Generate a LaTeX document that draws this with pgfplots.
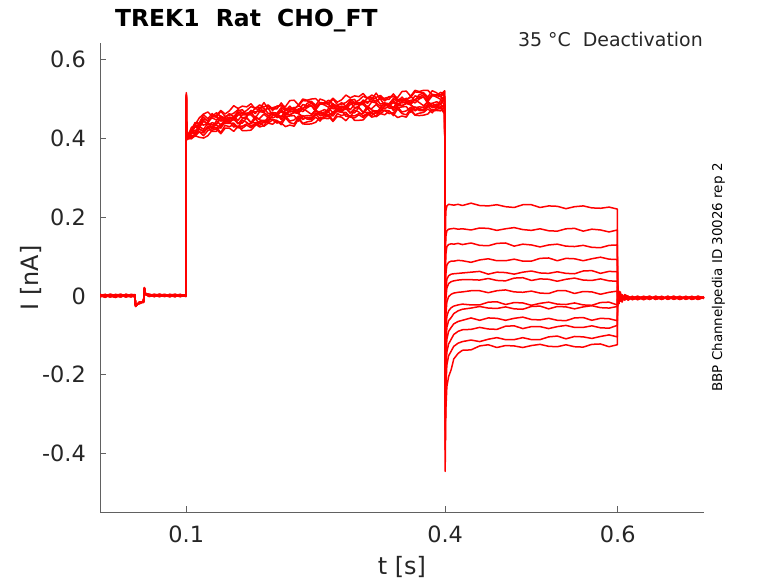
\documentclass[border=0pt]{standalone}
\usepackage{pgfplots}
\pgfplotsset{compat=1.18}
\usepackage{pgfplotstable}
\usepackage{fontspec}
\setmainfont{DejaVu Sans}
\definecolor{txtgray}{gray}{0.15}
\definecolor{axgray}{gray}{0.38}
\pgfplotstableread{
t a b c d e f g h i j k l m
0 0.002 -0.001 0.003 0.000 -0.002 0.001 0.004 -0.003 0.001 0.002 -0.002 0.000 0.003
0.006 -0.002 0.003 -0.001 0.004 0.001 -0.003 0.000 0.002 -0.004 0.001 0.003 -0.002 0.000
0.012 0.003 0.000 0.002 -0.003 0.004 0.002 -0.002 0.000 0.003 -0.003 0.001 0.004 -0.002
0.018 -0.001 -0.004 0.001 0.002 -0.001 0.000 0.003 -0.004 0.002 0.004 -0.003 0.001 0.002
0.024 0.004 0.002 -0.003 0.000 0.003 -0.002 0.001 0.003 -0.001 0.000 0.002 -0.003 0.004
0.030 0.000 -0.002 0.004 0.003 -0.003 0.004 -0.001 0.001 0.002 -0.002 0.000 0.002 -0.003
0.036 -0.003 0.001 0.000 -0.002 0.002 0.001 0.004 -0.002 0.000 0.003 -0.001 0.000 0.001
0.0405 0.002 0.003 -0.002 0.001 0.000 -0.003 0.002 0.003 -0.003 0.001 0.003 -0.001 0.000
0.0412 -0.024 -0.026 -0.022 -0.025 -0.027 -0.023 -0.025 -0.024 -0.026 -0.022 -0.025 -0.027 -0.024
0.046 -0.018 -0.015 -0.019 -0.016 -0.017 -0.020 -0.015 -0.018 -0.016 -0.019 -0.017 -0.015 -0.018
0.0505 -0.014 -0.016 -0.013 -0.015 -0.017 -0.014 -0.016 -0.013 -0.015 -0.014 -0.016 -0.015 -0.013
0.0515 0.018 0.020 0.016 0.021 0.019 0.017 0.020 0.018 0.021 0.016 0.019 0.020 0.017
0.0525 0.005 0.004 0.006 0.003 0.005 0.007 0.004 0.006 0.003 0.005 0.004 0.006 0.005
0.057 0.002 -0.001 0.004 0.003 0.000 0.002 -0.002 0.003 0.004 0.001 -0.001 0.002 0.003
0.063 -0.001 0.003 0.001 -0.002 0.004 0.000 0.002 -0.001 0.001 0.004 0.002 -0.002 0.000
0.069 0.004 0.000 -0.002 0.002 0.001 0.003 0.004 0.002 -0.002 0.000 0.003 0.004 -0.001
0.075 0.000 0.002 0.003 -0.001 -0.002 0.001 -0.001 0.004 0.002 -0.001 0.000 0.001 0.003
0.081 0.002 -0.002 0.000 0.004 0.003 -0.002 0.001 0.000 0.003 0.002 -0.002 0.003 0.001
0.087 -0.002 0.004 0.002 0.001 -0.001 0.003 0.003 -0.002 0.000 0.004 0.001 0.000 -0.002
0.093 0.003 0.001 -0.001 -0.002 0.002 0.000 -0.002 0.003 0.001 -0.001 0.004 0.002 0.002
0.0995 0.001 -0.001 0.002 0.003 0.000 0.002 0.001 -0.001 0.003 0.000 -0.002 0.001 0.000
0.1000 0.512 0.505 0.498 0.515 0.508 0.500 0.510 0.503 0.496 0.507 0.501 0.509 0.504
0.1004 0.398 0.396 0.400 0.397 0.399 0.395 0.398 0.401 0.396 0.399 0.397 0.400 0.398
0.103 0.413 0.402 0.409 0.401 0.405 0.404 0.412 0.399 0.402 0.411 0.398 0.410 0.403
0.106 0.418 0.414 0.416 0.406 0.418 0.402 0.427 0.398 0.417 0.417 0.406 0.411 0.412
0.110 0.439 0.410 0.431 0.404 0.431 0.409 0.433 0.406 0.413 0.437 0.408 0.428 0.419
0.115 0.438 0.430 0.433 0.416 0.429 0.422 0.451 0.402 0.435 0.435 0.416 0.427 0.424
0.120 0.459 0.422 0.447 0.406 0.445 0.418 0.461 0.400 0.433 0.453 0.413 0.442 0.416
0.125 0.449 0.438 0.445 0.419 0.433 0.424 0.466 0.406 0.437 0.442 0.427 0.438 0.430
0.130 0.462 0.426 0.451 0.424 0.439 0.428 0.455 0.420 0.433 0.456 0.417 0.454 0.428
0.135 0.452 0.444 0.446 0.427 0.436 0.433 0.458 0.423 0.435 0.464 0.417 0.454 0.425
0.140 0.468 0.433 0.456 0.414 0.454 0.425 0.470 0.411 0.450 0.455 0.431 0.443 0.435
0.145 0.455 0.444 0.449 0.432 0.444 0.441 0.461 0.425 0.437 0.451 0.438 0.446 0.443
0.150 0.458 0.448 0.453 0.429 0.445 0.442 0.469 0.425 0.439 0.462 0.437 0.450 0.440
0.155 0.463 0.452 0.452 0.434 0.446 0.428 0.482 0.417 0.455 0.454 0.438 0.449 0.448
0.160 0.472 0.438 0.469 0.427 0.458 0.430 0.475 0.430 0.445 0.466 0.426 0.464 0.436
0.165 0.464 0.438 0.472 0.425 0.463 0.430 0.481 0.419 0.459 0.461 0.445 0.451 0.449
0.170 0.470 0.451 0.457 0.433 0.463 0.436 0.479 0.419 0.459 0.462 0.440 0.454 0.452
0.175 0.480 0.439 0.470 0.426 0.466 0.436 0.487 0.420 0.459 0.461 0.430 0.470 0.439
0.180 0.475 0.455 0.462 0.436 0.451 0.449 0.474 0.432 0.448 0.477 0.437 0.466 0.439
0.185 0.484 0.446 0.477 0.428 0.467 0.437 0.473 0.440 0.450 0.478 0.432 0.469 0.441
0.190 0.479 0.444 0.476 0.432 0.465 0.439 0.490 0.430 0.461 0.465 0.443 0.471 0.445
0.195 0.484 0.446 0.462 0.447 0.457 0.453 0.474 0.438 0.451 0.481 0.438 0.475 0.442
0.200 0.474 0.457 0.465 0.447 0.462 0.451 0.477 0.435 0.465 0.470 0.446 0.459 0.458
0.205 0.474 0.462 0.463 0.445 0.458 0.456 0.480 0.444 0.452 0.481 0.438 0.460 0.461
0.210 0.489 0.454 0.477 0.434 0.467 0.455 0.482 0.438 0.453 0.483 0.441 0.472 0.447
0.215 0.475 0.465 0.469 0.451 0.459 0.456 0.480 0.429 0.471 0.471 0.454 0.461 0.459
0.220 0.476 0.459 0.481 0.439 0.470 0.443 0.495 0.433 0.466 0.472 0.456 0.469 0.459
0.225 0.476 0.465 0.469 0.436 0.478 0.446 0.496 0.430 0.469 0.472 0.457 0.467 0.465
0.230 0.481 0.462 0.469 0.452 0.465 0.456 0.484 0.448 0.463 0.484 0.443 0.474 0.463
0.235 0.495 0.455 0.485 0.437 0.476 0.447 0.499 0.436 0.475 0.473 0.457 0.467 0.450
0.240 0.494 0.457 0.482 0.441 0.480 0.453 0.496 0.435 0.468 0.488 0.448 0.477 0.451
0.245 0.493 0.456 0.488 0.443 0.482 0.448 0.499 0.436 0.460 0.492 0.447 0.483 0.451
0.250 0.483 0.472 0.479 0.453 0.467 0.458 0.500 0.440 0.471 0.476 0.461 0.472 0.464
0.255 0.499 0.457 0.488 0.443 0.467 0.467 0.489 0.452 0.461 0.490 0.448 0.486 0.457
0.260 0.495 0.459 0.484 0.457 0.472 0.461 0.488 0.453 0.466 0.489 0.450 0.487 0.461
0.265 0.484 0.476 0.478 0.459 0.468 0.465 0.490 0.455 0.467 0.496 0.449 0.486 0.457
0.270 0.499 0.464 0.487 0.445 0.485 0.456 0.501 0.442 0.481 0.486 0.462 0.474 0.466
0.275 0.485 0.474 0.479 0.462 0.474 0.471 0.491 0.455 0.467 0.481 0.468 0.476 0.473
0.280 0.486 0.476 0.481 0.457 0.473 0.470 0.497 0.453 0.467 0.490 0.465 0.478 0.468
0.285 0.490 0.479 0.479 0.461 0.473 0.455 0.509 0.444 0.482 0.481 0.465 0.476 0.475
0.290 0.499 0.465 0.496 0.454 0.485 0.457 0.502 0.457 0.472 0.493 0.453 0.491 0.463
0.295 0.490 0.464 0.498 0.451 0.489 0.456 0.507 0.445 0.485 0.487 0.471 0.477 0.475
0.300 0.496 0.477 0.483 0.459 0.489 0.462 0.505 0.445 0.485 0.488 0.466 0.480 0.478
0.305 0.506 0.465 0.496 0.452 0.492 0.462 0.513 0.446 0.485 0.487 0.456 0.496 0.465
0.310 0.501 0.481 0.488 0.462 0.477 0.475 0.500 0.458 0.474 0.503 0.463 0.492 0.465
0.315 0.509 0.471 0.502 0.453 0.492 0.462 0.498 0.465 0.475 0.503 0.457 0.494 0.466
0.320 0.503 0.468 0.500 0.456 0.489 0.463 0.514 0.454 0.485 0.489 0.467 0.495 0.469
0.325 0.508 0.470 0.486 0.471 0.481 0.477 0.498 0.462 0.475 0.505 0.462 0.499 0.466
0.330 0.498 0.481 0.489 0.471 0.486 0.475 0.501 0.459 0.489 0.494 0.470 0.483 0.482
0.335 0.498 0.486 0.487 0.469 0.482 0.480 0.504 0.468 0.476 0.505 0.462 0.484 0.485
0.340 0.512 0.477 0.500 0.457 0.490 0.478 0.505 0.461 0.476 0.506 0.464 0.495 0.470
0.345 0.498 0.488 0.492 0.474 0.482 0.479 0.503 0.452 0.494 0.494 0.477 0.484 0.482
0.350 0.499 0.482 0.504 0.462 0.493 0.466 0.518 0.456 0.489 0.495 0.479 0.492 0.482
0.355 0.499 0.488 0.492 0.459 0.501 0.469 0.519 0.453 0.492 0.495 0.480 0.490 0.488
0.360 0.503 0.484 0.491 0.474 0.487 0.478 0.506 0.470 0.485 0.506 0.465 0.496 0.485
0.365 0.517 0.477 0.507 0.459 0.498 0.469 0.521 0.458 0.497 0.495 0.479 0.489 0.472
0.370 0.516 0.479 0.504 0.463 0.502 0.475 0.518 0.457 0.490 0.510 0.470 0.499 0.473
0.375 0.515 0.478 0.510 0.465 0.504 0.470 0.521 0.458 0.482 0.514 0.469 0.505 0.473
0.380 0.504 0.493 0.500 0.474 0.488 0.479 0.521 0.461 0.492 0.497 0.482 0.493 0.485
0.385 0.520 0.478 0.509 0.464 0.488 0.488 0.510 0.473 0.482 0.511 0.469 0.507 0.478
0.390 0.515 0.479 0.504 0.477 0.492 0.481 0.508 0.473 0.486 0.509 0.470 0.507 0.481
0.395 0.504 0.496 0.498 0.479 0.488 0.485 0.510 0.475 0.487 0.516 0.469 0.506 0.477
0.3995 0.518 0.483 0.506 0.464 0.504 0.475 0.520 0.461 0.500 0.505 0.481 0.493 0.485
0.4000 0.120 0.060 0.000 -0.050 -0.090 -0.130 -0.180 -0.220 -0.260 -0.300 -0.340 -0.390 -0.445
0.4008 0.215 0.150 0.105 0.055 0.015 -0.010 -0.050 -0.090 -0.125 -0.160 -0.195 -0.235 -0.290
0.402 0.228 0.165 0.125 0.078 0.042 0.020 -0.015 -0.052 -0.080 -0.110 -0.142 -0.175 -0.230
0.404 0.232 0.169 0.130 0.085 0.051 0.031 -0.002 -0.038 -0.063 -0.090 -0.122 -0.152 -0.205
0.407 0.231 0.170 0.132 0.088 0.055 0.036 0.004 -0.030 -0.055 -0.080 -0.110 -0.140 -0.187
0.410 0.230 0.171 0.131 0.088 0.056 0.038 0.007 -0.026 -0.045 -0.071 -0.098 -0.128 -0.160
0.415 0.232 0.169 0.133 0.090 0.057 0.040 0.009 -0.023 -0.038 -0.065 -0.090 -0.120 -0.146
0.420 0.229 0.170 0.130 0.089 0.058 0.041 0.010 -0.021 -0.034 -0.062 -0.086 -0.116 -0.138
0.430 0.235 0.167 0.134 0.085 0.060 0.041 0.013 -0.023 -0.031 -0.056 -0.085 -0.112 -0.137
0.440 0.229 0.172 0.128 0.091 0.062 0.040 0.013 -0.023 -0.027 -0.062 -0.080 -0.116 -0.127
0.450 0.228 0.171 0.127 0.094 0.055 0.044 0.008 -0.016 -0.031 -0.056 -0.084 -0.110 -0.124
0.460 0.231 0.166 0.133 0.089 0.060 0.039 0.013 -0.015 -0.032 -0.057 -0.085 -0.106 -0.131
0.470 0.226 0.170 0.134 0.089 0.059 0.038 0.015 -0.022 -0.028 -0.062 -0.077 -0.111 -0.126
0.480 0.224 0.173 0.126 0.093 0.055 0.045 0.010 -0.017 -0.033 -0.057 -0.076 -0.111 -0.127
0.490 0.231 0.168 0.131 0.088 0.060 0.046 0.009 -0.018 -0.034 -0.054 -0.083 -0.106 -0.131
0.500 0.231 0.166 0.129 0.088 0.063 0.039 0.012 -0.024 -0.027 -0.060 -0.078 -0.111 -0.126
0.510 0.224 0.170 0.124 0.095 0.058 0.043 0.007 -0.019 -0.026 -0.061 -0.078 -0.111 -0.123
0.520 0.228 0.165 0.129 0.096 0.057 0.042 0.006 -0.016 -0.033 -0.057 -0.083 -0.104 -0.128
0.530 0.227 0.164 0.131 0.089 0.061 0.037 0.013 -0.021 -0.027 -0.062 -0.078 -0.102 -0.129
0.540 0.221 0.170 0.126 0.095 0.057 0.042 0.013 -0.022 -0.028 -0.063 -0.075 -0.109 -0.124
0.550 0.226 0.171 0.125 0.094 0.056 0.045 0.006 -0.018 -0.033 -0.056 -0.080 -0.103 -0.129
0.560 0.228 0.164 0.128 0.089 0.063 0.040 0.011 -0.023 -0.028 -0.055 -0.080 -0.104 -0.130
0.570 0.223 0.169 0.123 0.094 0.064 0.039 0.010 -0.024 -0.025 -0.062 -0.076 -0.108 -0.123
0.580 0.222 0.167 0.122 0.098 0.057 0.043 0.004 -0.017 -0.030 -0.057 -0.081 -0.103 -0.122
0.590 0.225 0.162 0.128 0.093 0.062 0.038 0.009 -0.016 -0.031 -0.058 -0.082 -0.099 -0.129
0.5995 0.220 0.167 0.129 0.092 0.061 0.037 0.012 -0.023 -0.027 -0.063 -0.075 -0.104 -0.124
0.6000 -0.025 -0.018 -0.012 -0.006 -0.002 0.002 0.006 0.010 0.012 0.016 0.019 0.022 0.026
0.6015 0.012 0.008 0.006 0.003 0.001 -0.002 -0.005 -0.008 -0.010 -0.013 -0.016 -0.018 -0.020
0.603 -0.014 -0.011 -0.008 -0.006 -0.004 -0.003 0.000 0.002 0.003 0.005 0.006 0.008 0.010
0.605 0.003 0.002 0.000 -0.001 -0.002 -0.004 -0.006 -0.008 -0.010 -0.012 -0.013 -0.014 -0.016
0.608 -0.011 -0.009 -0.008 -0.006 -0.005 -0.004 -0.003 -0.002 0.000 0.001 0.002 0.003 0.001
0.612 -0.002 -0.008 -0.003 -0.010 -0.001 -0.007 -0.004 -0.011 -0.002 -0.006 -0.009 -0.001 -0.005
0.617 -0.009 -0.002 -0.007 -0.003 -0.010 -0.001 -0.006 -0.004 -0.008 -0.002 -0.005 -0.009 -0.003
0.623 -0.004 -0.009 -0.001 -0.008 -0.003 -0.009 -0.002 -0.007 -0.004 -0.010 -0.001 -0.006 -0.008
0.630 -0.007 -0.003 -0.009 -0.002 -0.006 -0.004 -0.010 -0.001 -0.008 -0.003 -0.007 -0.002 -0.005
0.637 -0.002 -0.007 -0.004 -0.009 -0.001 -0.008 -0.003 -0.006 -0.002 -0.009 -0.004 -0.007 -0.001
0.644 -0.008 -0.001 -0.006 -0.003 -0.009 -0.002 -0.007 -0.004 -0.009 -0.001 -0.006 -0.003 -0.008
0.651 -0.003 -0.008 -0.002 -0.007 -0.004 -0.009 -0.001 -0.008 -0.003 -0.006 -0.002 -0.009 -0.004
0.658 -0.006 -0.004 -0.008 -0.001 -0.007 -0.003 -0.009 -0.002 -0.006 -0.004 -0.008 -0.001 -0.007
0.665 -0.001 -0.007 -0.003 -0.008 -0.002 -0.006 -0.004 -0.009 -0.001 -0.007 -0.003 -0.008 -0.002
0.672 -0.007 -0.002 -0.009 -0.004 -0.008 -0.001 -0.006 -0.003 -0.009 -0.002 -0.007 -0.004 -0.009
0.679 -0.003 -0.009 -0.002 -0.006 -0.003 -0.008 -0.002 -0.007 -0.004 -0.008 -0.001 -0.006 -0.003
0.686 -0.008 -0.003 -0.006 -0.002 -0.009 -0.004 -0.008 -0.001 -0.007 -0.003 -0.009 -0.002 -0.006
0.693 -0.002 -0.006 -0.001 -0.009 -0.004 -0.007 -0.003 -0.008 -0.002 -0.006 -0.004 -0.009 -0.001
0.700 -0.005 -0.004 -0.007 -0.003 -0.006 -0.002 -0.005 -0.004 -0.006 -0.003 -0.006 -0.004 -0.005
}\traces

\begin{document}
\begin{tikzpicture}
\path[use as bounding box] (0,0) rectangle (778bp,583bp);
\begin{axis}[
  at={(100bp,71bp)}, anchor=south west,
  width=604bp, height=469bp, scale only axis,
  xmin=0, xmax=0.7, ymin=-0.548, ymax=0.641,
  axis x line*=bottom, axis y line*=left,
  axis line style={-, draw=axgray, line width=0.7bp},
  tick style={draw=axgray, line width=0.7bp},
  tick align=inside, major tick length=6bp,
  xtick={0.1,0.4,0.6},
  ytick={-0.4,-0.2,0,0.2,0.4,0.6},
  /pgf/number format/.cd, fixed, precision=1, assume math mode=true,
  /pgfplots/.cd,
  ticklabel style={font=\fontsize{22.5}{27}\selectfont, text=txtgray},
  yticklabel style={inner sep=0pt, xshift=-14bp},
  xticklabel style={inner sep=0pt, yshift=-14bp, anchor=north},
]
\pgfplotsinvokeforeach{a,b,c,d,e,f,g,h,i,j,k,l,m}{
  \addplot[red, line width=1.5bp, line join=round] table[x=t, y=#1] {\traces};
}
\end{axis}
\node[anchor=base west, inner sep=0pt, font=\bfseries\fontsize{23.5}{28}\selectfont] at (115bp,556bp) {TREK1\ \ Rat\ \ CHO\_FT};
\node[anchor=base east, inner sep=0pt, font=\fontsize{19}{23}\selectfont, text=txtgray] at (703bp,536bp) {35 °C\ \ Deactivation};
\node[anchor=base, rotate=90, inner sep=0pt, font=\fontsize{13.5}{16}\selectfont] at (722bp,305.5bp) {BBP Channelpedia ID 30026 rep 2};
\node[anchor=base, rotate=90, inner sep=0pt, font=\fontsize{24}{28}\selectfont, text=txtgray] at (38bp,305bp) {I [nA]};
\node[anchor=base, inner sep=0pt, font=\fontsize{24}{28}\selectfont, text=txtgray] at (402bp,9bp) {t [s]};
\end{tikzpicture}
\end{document}
